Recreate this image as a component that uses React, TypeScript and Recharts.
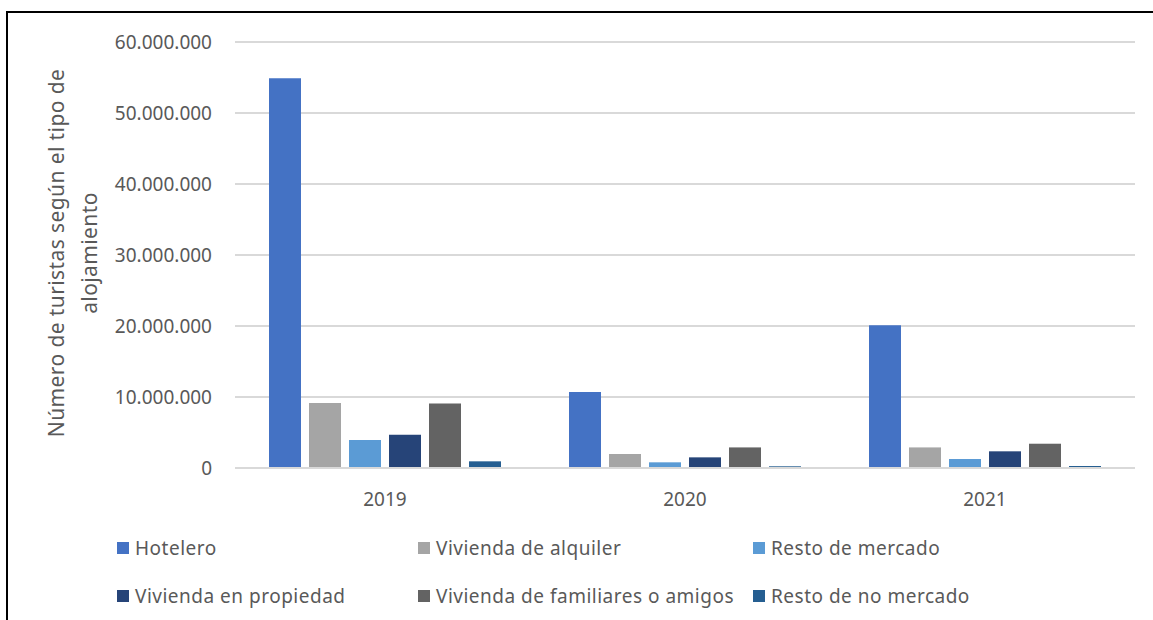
import React from 'react';
import { BarChart, Bar, XAxis, YAxis, CartesianGrid, Legend, Label } from 'recharts';

const categories = ['2019', '2020', '2021'];
const hotelero = [54900000, 10700000, 20100000];
const viviendaAlquiler = [9150000, 1970000, 2900000];
const restoMercado = [3940000, 800000, 1270000];
const viviendaPropiedad = [4690000, 1500000, 2350000];
const viviendaFamiliares = [9100000, 2900000, 3420000];
const restoNoMercado = [940000, 240000, 280000];

const seriesKeys = ['hotelero', 'alquiler', 'restoMercado', 'propiedad', 'familiares', 'noMercado'];
const seriesNames = [
  'Hotelero',
  'Vivienda de alquiler',
  'Resto de mercado',
  'Vivienda en propiedad',
  'Vivienda de familiares o amigos',
  'Resto de no mercado',
];
const seriesColors = ['#4472C4', '#A5A5A5', '#5B9BD5', '#264478', '#636363', '#255E91'];
const seriesValues = [hotelero, viviendaAlquiler, restoMercado, viviendaPropiedad, viviendaFamiliares, restoNoMercado];

const yTicks = [0, 10000000, 20000000, 30000000, 40000000, 50000000, 60000000];
const yTitleLines = ['Número de turistas según el tipo de', 'alojamiento'];

const data = categories.map((c, i) => {
  const row: Record<string, string | number> = { year: c };
  seriesKeys.forEach((k, s) => {
    row[k] = seriesValues[s][i];
  });
  return row;
});

const FONT = '"Noto Sans", "Open Sans", sans-serif';
const TEXT = '#595959';

const fmt = (v: number) => String(Math.round(v)).replace(/\B(?=(\d{3})+(?!\d))/g, '.');

const legendCols = [117, 418, 753];

const renderLegend = (props: any) => {
  const payload = [...(props.payload || [])].sort(
    (a: any, b: any) => seriesNames.indexOf(a.value) - seriesNames.indexOf(b.value)
  );
  return (
    <div style={{ position: 'relative', width: 1153, height: 90, fontFamily: FONT, fontSize: 19, color: TEXT, letterSpacing: 0.5 }}>
      {payload.map((entry: any, i: number) => {
        const col = i % 3;
        const row = Math.floor(i / 3);
        return (
          <div
            key={entry.value}
            style={{
              position: 'absolute',
              left: legendCols[col],
              top: 5 + row * 48,
              height: 26,
              lineHeight: '26px',
              display: 'flex',
              alignItems: 'center',
              whiteSpace: 'nowrap',
            }}
          >
            <span style={{ display: 'inline-block', width: 12, height: 12, background: entry.color, marginRight: 6 }} />
            <span>{entry.value}</span>
          </div>
        );
      })}
    </div>
  );
};

const renderYTitle = (props: any) => {
  const vb = props.viewBox || { x: 0, y: 42, width: 235, height: 426 };
  const cx = 74;
  const cy = vb.y + vb.height / 2 - 2;
  return (
    <text
      x={cx}
      y={cy}
      transform={`rotate(-90, ${cx}, ${cy})`}
      textAnchor="middle"
      fill={TEXT}
      fontFamily={FONT}
      fontSize={21}
      letterSpacing={0.4}
    >
      <tspan x={cx} dy={-10}>{yTitleLines[0]}</tspan>
      <tspan x={cx} dy={33}>{yTitleLines[1]}</tspan>
    </text>
  );
};

export default function App() {
  return (
    <div style={{ position: 'absolute', left: 0, top: 0, width: 1153, height: 620, background: '#fff' }}>
      <div
        style={{
          position: 'absolute',
          left: 6,
          top: 11,
          width: 1147,
          height: 609,
          borderTop: '2px solid #000',
          borderLeft: '2px solid #000',
          boxSizing: 'border-box',
        }}
      />
      <div style={{ position: 'absolute', left: 0, top: 0 }}>
        <BarChart
          width={1153}
          height={620}
          data={data}
          margin={{ top: 42, right: 18, left: 0, bottom: 112 }}
          barSize={32}
          barGap={8}
        >
          <CartesianGrid vertical={false} stroke="#D9D9D9" strokeWidth={2} />
          <XAxis
            dataKey="year"
            height={40}
            axisLine={{ stroke: '#D9D9D9', strokeWidth: 2 }}
            tickLine={false}
            tickMargin={19}
            tick={{ fill: TEXT, fontSize: 19, fontFamily: FONT }}
          />
          <YAxis
            width={235}
            domain={[0, 60000000]}
            ticks={yTicks}
            tickFormatter={fmt}
            axisLine={false}
            tickLine={false}
            tickMargin={17}
            tick={{ fill: TEXT, fontSize: 19, fontFamily: FONT }}
          >
            <Label content={renderYTitle} />
          </YAxis>
          <Legend
            layout="horizontal"
            verticalAlign="middle"
            align="center"
            wrapperStyle={{ left: 0, top: 530, width: 1153, height: 90 }}
            content={renderLegend}
          />
          {seriesKeys.map((k, s) => (
            <Bar key={k} dataKey={k} name={seriesNames[s]} fill={seriesColors[s]} isAnimationActive={false} />
          ))}
        </BarChart>
      </div>
    </div>
  );
}
